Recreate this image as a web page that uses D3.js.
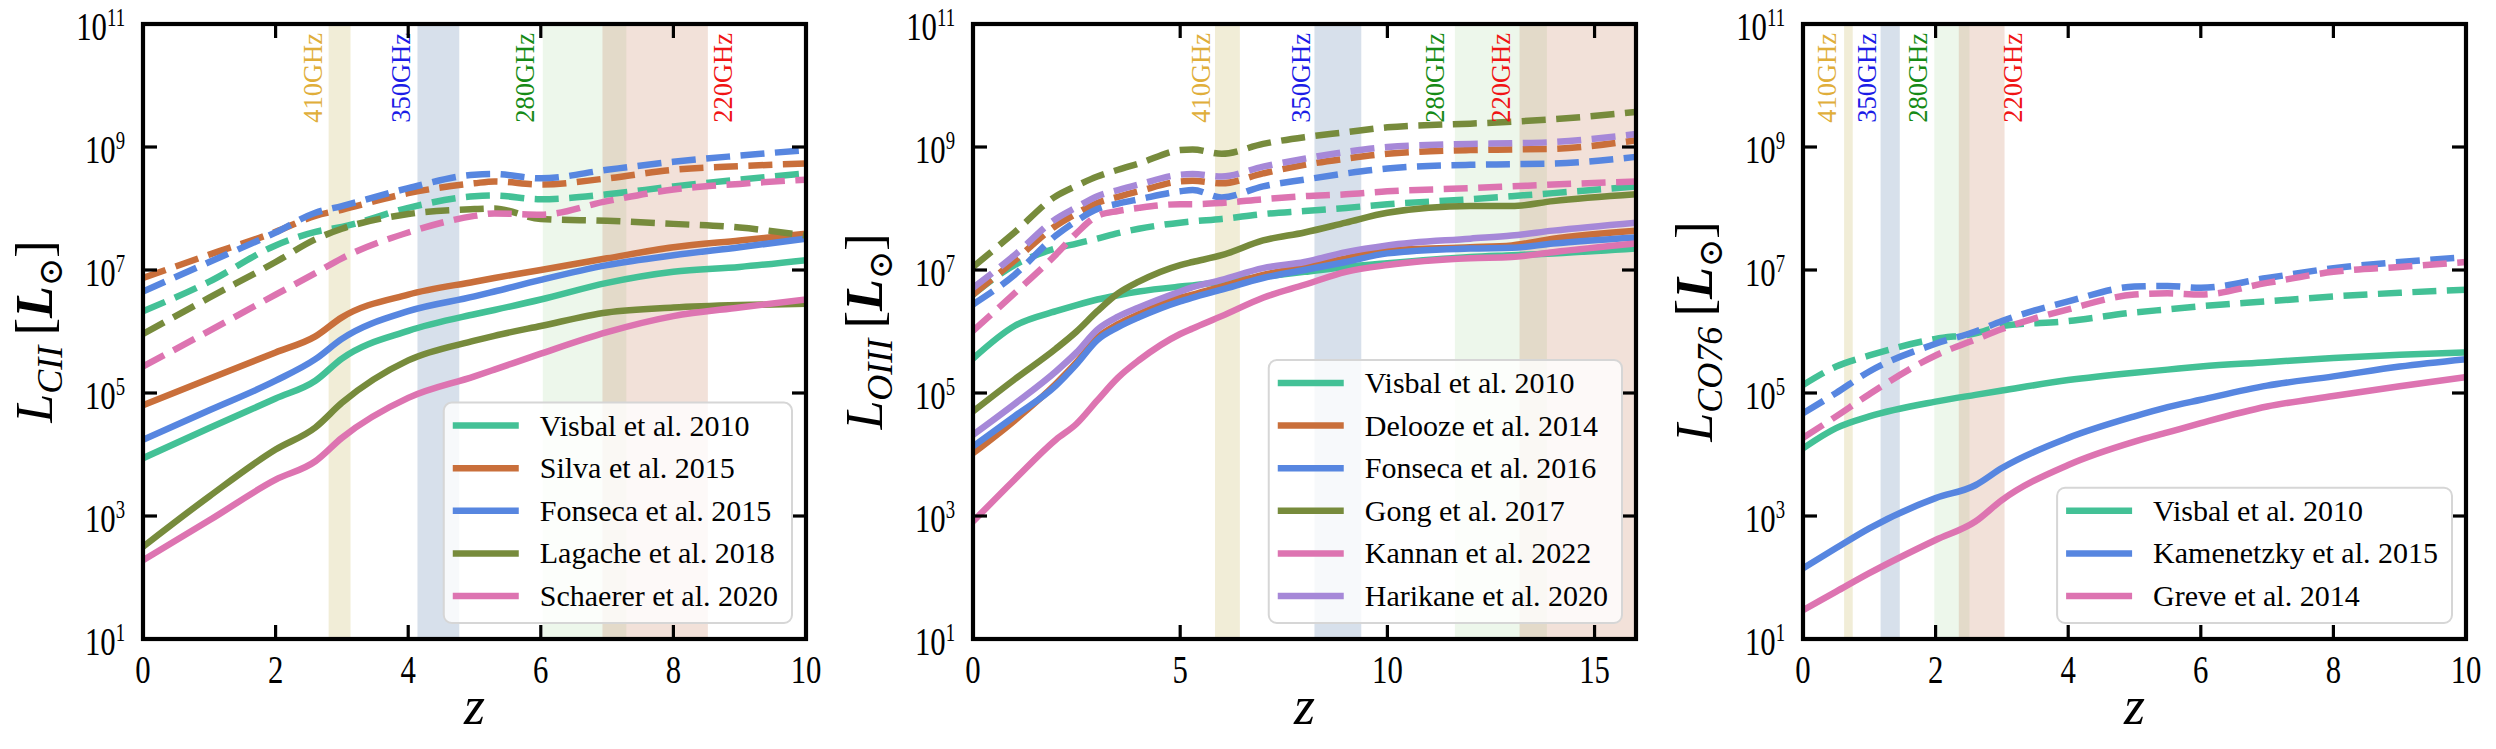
<!DOCTYPE html>
<html>
<head>
<meta charset="utf-8">
<script src="https://cdn.jsdelivr.net/npm/d3@7"></script>
<style>
body { margin: 0; background: #fff; }
svg { display: block; }
svg text { font-family: 'Liberation Serif', 'DejaVu Serif', serif; }
</style>
</head>
<body>
<svg id="fig" width="2496" height="749"></svg>
<script>
// all luminosities below are log10(L / Lsun)

// [CII]
const ciiZ = [0, 1, 2, 2.6, 3, 4, 5, 5.3, 6, 7, 8, 9, 10];
const ciiVisbal = [3.94, 4.43, 4.91, 5.20, 5.56, 6.01, 6.28, 6.35, 6.52, 6.79, 6.97, 7.05, 7.16];
const ciiSilva = [4.80, 5.23, 5.66, 5.92, 6.23, 6.60, 6.81, 6.87, 7.00, 7.19, 7.37, 7.48, 7.59];
const ciiFonseca = [4.24, 4.72, 5.20, 5.55, 5.88, 6.33, 6.57, 6.65, 6.84, 7.08, 7.24, 7.37, 7.51];
const ciiLagache = [2.50, 3.32, 4.08, 4.44, 4.84, 5.53, 5.85, 5.93, 6.09, 6.31, 6.39, 6.43, 6.45];
const ciiSchaerer = [2.28, 2.93, 3.59, 3.89, 4.27, 4.92, 5.27, 5.38, 5.64, 5.99, 6.25, 6.39, 6.52];
const ciiVisbalDash = [6.33, 6.81, 7.40, 7.62, 7.70, 8.01, 8.20, 8.21, 8.15, 8.23, 8.36, 8.47, 8.57];
const ciiSilvaDash = [6.87, 7.25, 7.62, 7.88, 7.98, 8.25, 8.41, 8.44, 8.39, 8.49, 8.63, 8.69, 8.73];
const ciiFonsecaDash = [6.65, 7.13, 7.61, 7.93, 8.04, 8.33, 8.55, 8.56, 8.49, 8.63, 8.76, 8.86, 8.95];
const ciiLagacheDash = [5.96, 6.55, 7.13, 7.50, 7.67, 7.91, 7.99, 8.00, 7.83, 7.80, 7.75, 7.69, 7.56];
const ciiSchaererDash = [5.43, 6.01, 6.60, 6.95, 7.19, 7.61, 7.88, 7.92, 7.90, 8.12, 8.31, 8.40, 8.47];

// [OIII]
const oiiiZ = [0, 1, 2, 2.5, 3, 3.5, 4, 5, 5.3, 6, 7, 8, 9, 10, 12, 13, 14, 16];
const oiiiVisbal = [5.56, 6.09, 6.33, 6.43, 6.52, 6.59, 6.65, 6.73, 6.75, 6.81, 6.89, 6.97, 7.05, 7.11, 7.21, 7.24, 7.27, 7.35];
const oiiiDelooze = [4.02, 4.55, 5.15, 5.50, 5.90, 6.12, 6.28, 6.55, 6.60, 6.73, 6.92, 7.05, 7.19, 7.32, 7.37, 7.40, 7.51, 7.64];
const oiiiFonseca = [4.13, 4.62, 5.12, 5.47, 5.86, 6.07, 6.23, 6.49, 6.55, 6.68, 6.87, 7.00, 7.13, 7.27, 7.35, 7.36, 7.43, 7.53];
const oiiiGong = [4.70, 5.22, 5.72, 6.00, 6.33, 6.62, 6.81, 7.08, 7.13, 7.24, 7.48, 7.61, 7.77, 7.93, 8.04, 8.04, 8.12, 8.23];
const oiiiKannan = [2.91, 3.59, 4.24, 4.50, 4.88, 5.25, 5.53, 5.96, 6.05, 6.25, 6.55, 6.76, 6.97, 7.08, 7.19, 7.21, 7.29, 7.43];
const oiiiHarikane = [4.32, 4.82, 5.35, 5.66, 6.03, 6.24, 6.39, 6.65, 6.72, 6.84, 7.03, 7.13, 7.29, 7.40, 7.51, 7.56, 7.64, 7.77];
const oiiiVisbalDash = [6.60, 7.08, 7.35, 7.43, 7.51, 7.60, 7.67, 7.77, 7.79, 7.83, 7.91, 7.96, 8.01, 8.07, 8.15, 8.20, 8.25, 8.36];
const oiiiDeloozeDash = [6.60, 7.15, 7.72, 7.92, 8.09, 8.19, 8.28, 8.44, 8.45, 8.41, 8.57, 8.71, 8.81, 8.89, 8.95, 8.96, 8.97, 9.11];
const oiiiFonsecaDash = [6.44, 6.92, 7.56, 7.80, 7.99, 8.08, 8.15, 8.28, 8.30, 8.18, 8.36, 8.47, 8.57, 8.65, 8.71, 8.72, 8.73, 8.84];
const oiiiGongDash = [7.05, 7.61, 8.20, 8.37, 8.52, 8.63, 8.73, 8.95, 8.96, 8.89, 9.05, 9.16, 9.24, 9.32, 9.38, 9.41, 9.45, 9.57];
const oiiiKannanDash = [6.01, 6.62, 7.25, 7.60, 7.88, 7.96, 8.01, 8.07, 8.07, 8.09, 8.15, 8.20, 8.23, 8.28, 8.33, 8.36, 8.39, 8.44];
const oiiiHarikaneDash = [6.71, 7.24, 7.83, 8.02, 8.20, 8.30, 8.39, 8.55, 8.56, 8.52, 8.68, 8.81, 8.92, 9.00, 9.05, 9.06, 9.08, 9.21];

// CO(7-6)
const coZ = [0, 0.5, 1, 2, 2.6, 3, 4, 5, 5.5, 6, 7, 8, 9, 10];
const coVisbal = [4.10, 4.43, 4.62, 4.86, 4.97, 5.04, 5.21, 5.33, 5.38, 5.43, 5.50, 5.57, 5.62, 5.66];
const coKamenetzky = [2.15, 2.48, 2.80, 3.29, 3.50, 3.78, 4.27, 4.62, 4.77, 4.89, 5.12, 5.27, 5.43, 5.55];
const coGreve = [1.47, 1.77, 2.07, 2.61, 2.91, 3.26, 3.83, 4.21, 4.36, 4.51, 4.78, 4.95, 5.11, 5.26];
const coVisbalDash = [5.13, 5.43, 5.61, 5.88, 5.97, 6.09, 6.17, 6.31, 6.36, 6.41, 6.49, 6.57, 6.63, 6.68];
const coKamenetzkyDash = [4.67, 5.00, 5.35, 5.80, 6.00, 6.17, 6.49, 6.73, 6.74, 6.71, 6.87, 7.03, 7.13, 7.21];
const coGreveDash = [4.27, 4.62, 4.98, 5.61, 5.87, 6.04, 6.36, 6.60, 6.62, 6.60, 6.79, 6.97, 7.05, 7.13];

// observing bands, as redshift ranges of the line, plus where each label sits
const bandNames = ['410GHz', '350GHz', '280GHz', '220GHz'];
const ciiBands = [[2.80, 3.13], [4.14, 4.77], [6.03, 7.29], [6.93, 8.52]];
const ciiBandLabelZ = [2.56, 3.89, 5.76, 8.75];
const oiiiBands = [[5.84, 6.44], [8.24, 9.37], [11.63, 13.85], [13.19, 17]];
const oiiiBandLabelZ = [5.50, 7.91, 11.15, 12.73];
const coBands = [[0.62, 0.75], [1.17, 1.46], [1.98, 2.51], [2.35, 3.04]];
const coBandLabelZ = [0.36, 0.96, 1.73, 3.17];

const yTickExps = [1, 3, 5, 7, 9, 11];
const ciiXTicks = [0, 2, 4, 6, 8, 10];
const oiiiXTicks = [0, 5, 10, 15];
const coXTicks = [0, 2, 4, 6, 8, 10];

const Color = {
    TEAL: '#43c196',
    ORANGE: '#c96f3b',
    BLUE: '#5786e0',
    OLIVE: '#778b3c',
    PINK: '#dd74b1',
    PURPLE: '#a688d8',
};
const BAND_FILL = [
    { color: '#c8b860', opacity: 0.25 },
    { color: '#6f8fb8', opacity: 0.28 },
    { color: '#90d080', opacity: 0.16 },
    { color: '#c06a40', opacity: 0.20 },
];
const BAND_TEXT = ['#e0ae3a', '#1c1ce6', '#168a16', '#f01414'];

const TOP = 24, BOTTOM = 639, WIDTH = 663;
const LINE_WIDTH = 6.5;

let panels = [
    {
        left: 143, xMax: 10, xTicks: ciiXTicks, z: ciiZ, sub: 'CII',
        bands: ciiBands, bandLabelZ: ciiBandLabelZ,
        series: [
            { label: 'Visbal et al. 2010', color: Color.TEAL, solid: ciiVisbal, dash: ciiVisbalDash },
            { label: 'Silva et al. 2015', color: Color.ORANGE, solid: ciiSilva, dash: ciiSilvaDash },
            { label: 'Fonseca et al. 2015', color: Color.BLUE, solid: ciiFonseca, dash: ciiFonsecaDash },
            { label: 'Lagache et al. 2018', color: Color.OLIVE, solid: ciiLagache, dash: ciiLagacheDash },
            { label: 'Schaerer et al. 2020', color: Color.PINK, solid: ciiSchaerer, dash: ciiSchaererDash },
        ],
    },
    {
        left: 973, xMax: 16, xTicks: oiiiXTicks, z: oiiiZ, sub: 'OIII',
        bands: oiiiBands, bandLabelZ: oiiiBandLabelZ,
        series: [
            { label: 'Visbal et al. 2010', color: Color.TEAL, solid: oiiiVisbal, dash: oiiiVisbalDash },
            { label: 'Delooze et al. 2014', color: Color.ORANGE, solid: oiiiDelooze, dash: oiiiDeloozeDash },
            { label: 'Fonseca et al. 2016', color: Color.BLUE, solid: oiiiFonseca, dash: oiiiFonsecaDash },
            { label: 'Gong et al. 2017', color: Color.OLIVE, solid: oiiiGong, dash: oiiiGongDash },
            { label: 'Kannan et al. 2022', color: Color.PINK, solid: oiiiKannan, dash: oiiiKannanDash },
            { label: 'Harikane et al. 2020', color: Color.PURPLE, solid: oiiiHarikane, dash: oiiiHarikaneDash },
        ],
    },
    {
        left: 1803, xMax: 10, xTicks: coXTicks, z: coZ, sub: 'CO76',
        bands: coBands, bandLabelZ: coBandLabelZ,
        series: [
            { label: 'Visbal et al. 2010', color: Color.TEAL, solid: coVisbal, dash: coVisbalDash },
            { label: 'Kamenetzky et al. 2015', color: Color.BLUE, solid: coKamenetzky, dash: coKamenetzkyDash },
            { label: 'Greve et al. 2014', color: Color.PINK, solid: coGreve, dash: coGreveDash },
        ],
    },
];

let mSvg = d3.select('#fig');

function narrowText(g, x, y, anchor, size) {
    // tick labels in the figure are drawn tall and narrow
    return g.append('text')
        .attr('transform', `translate(${x},${y}) scale(0.75,1)`)
        .attr('text-anchor', anchor)
        .attr('font-size', size)
        .attr('fill', '#000');
}

function drawPanel(panel, index) {
    let x = d3.scaleLinear().domain([0, panel.xMax]).range([panel.left, panel.left + WIDTH]);
    let y = d3.scaleLog().domain([1e1, 1e11]).range([BOTTOM, TOP]);
    let right = panel.left + WIDTH;

    let g = mSvg.append('g');
    let clipId = 'clip' + index;
    g.append('clipPath').attr('id', clipId)
        .append('rect')
        .attr('x', panel.left).attr('y', TOP)
        .attr('width', WIDTH).attr('height', BOTTOM - TOP);

    let plot = g.append('g').attr('clip-path', `url(#${clipId})`);

    // bands
    panel.bands.forEach((band, i) => {
        plot.append('rect')
            .attr('x', x(band[0]))
            .attr('y', TOP)
            .attr('width', x(band[1]) - x(band[0]))
            .attr('height', BOTTOM - TOP)
            .attr('fill', BAND_FILL[i].color)
            .attr('fill-opacity', BAND_FILL[i].opacity);
    });

    let line = d3.line()
        .x(d => x(d[0]))
        .y(d => y(Math.pow(10, d[1])))
        .curve(d3.curveMonotoneX);

    panel.series.forEach(s => {
        plot.append('path')
            .attr('d', line(d3.zip(panel.z, s.solid)))
            .attr('fill', 'none')
            .attr('stroke', s.color)
            .attr('stroke-width', LINE_WIDTH)
            .attr('stroke-linejoin', 'round');
        plot.append('path')
            .attr('d', line(d3.zip(panel.z, s.dash)))
            .attr('fill', 'none')
            .attr('stroke', s.color)
            .attr('stroke-width', LINE_WIDTH)
            .attr('stroke-dasharray', '24,10.5')
            .attr('stroke-linejoin', 'round');
    });

    // band labels, rotated, hanging from the top
    bandNames.forEach((name, i) => {
        g.append('text')
            .attr('transform', `translate(${x(panel.bandLabelZ[i])},33) rotate(-90)`)
            .attr('text-anchor', 'end')
            .attr('dy', '0.34em')
            .attr('font-size', 26.5)
            .attr('fill', BAND_TEXT[i])
            .text(name);
    });

    // ticks
    let ticks = g.append('g').attr('stroke', '#000').attr('stroke-width', 3.2);
    yTickExps.forEach(e => {
        let ty = y(Math.pow(10, e));
        ticks.append('line').attr('x1', panel.left).attr('x2', panel.left + 14).attr('y1', ty).attr('y2', ty);
        ticks.append('line').attr('x1', right).attr('x2', right - 14).attr('y1', ty).attr('y2', ty);

        let label = narrowText(g, panel.left - 18, ty + 16, 'end', 41);
        label.append('tspan').text('10');
        label.append('tspan').attr('font-size', 25).attr('dy', -14).text(e);
    });
    panel.xTicks.forEach(v => {
        let tx = x(v);
        ticks.append('line').attr('x1', tx).attr('x2', tx).attr('y1', BOTTOM).attr('y2', BOTTOM - 14);
        ticks.append('line').attr('x1', tx).attr('x2', tx).attr('y1', TOP).attr('y2', TOP + 14);
        narrowText(g, tx, 683, 'middle', 41).text(v);
    });

    g.append('rect')
        .attr('x', panel.left).attr('y', TOP)
        .attr('width', WIDTH).attr('height', BOTTOM - TOP)
        .attr('fill', 'none')
        .attr('stroke', '#000')
        .attr('stroke-width', 4.2);

    // axis labels
    g.append('text')
        .attr('x', panel.left + WIDTH / 2)
        .attr('y', 724)
        .attr('text-anchor', 'middle')
        .attr('font-style', 'italic')
        .attr('font-size', 54)
        .text('z');

    let yLabel = g.append('text')
        .attr('transform', `translate(${panel.left - 91},${(TOP + BOTTOM) / 2}) rotate(-90)`)
        .attr('text-anchor', 'middle')
        .attr('font-size', 52);
    yLabel.append('tspan').attr('font-style', 'italic').text('L');
    yLabel.append('tspan').attr('font-style', 'italic').attr('font-size', 36).attr('dy', 10).text(panel.sub);
    yLabel.append('tspan').attr('dy', -10).text('\u2009[');
    yLabel.append('tspan').attr('font-style', 'italic').attr('font-weight', 'bold').text('L');
    yLabel.append('tspan').attr('font-size', 34).attr('dy', 10).text('\u2299');
    yLabel.append('tspan').attr('dy', -10).text(']');

    drawLegend(g, panel, right);
}

function drawLegend(g, panel, right) {
    const ROW = 42.6;
    let n = panel.series.length;
    let bottom = BOTTOM - 16;
    let top = bottom - ((n - 1) * ROW + 50);

    let box = g.append('rect');
    let handles = [];
    let texts = [];
    panel.series.forEach((s, i) => {
        let ry = top + 23 + i * ROW;
        let row = g.append('g').attr('transform', `translate(0,${ry})`);
        handles.push(row.append('line')
            .attr('y1', 0).attr('y2', 0)
            .attr('stroke', s.color)
            .attr('stroke-width', LINE_WIDTH));
        texts.push(row.append('text')
            .attr('dy', '0.33em')
            .attr('font-size', 30)
            .text(s.label));
    });

    let maxWidth = d3.max(texts, t => t.node().getComputedTextLength());
    let width = 96 + maxWidth + 14;
    let left = right - 14 - width;

    box.attr('x', left).attr('y', top)
        .attr('width', width).attr('height', bottom - top)
        .attr('rx', 8)
        .attr('fill', '#fff')
        .attr('fill-opacity', 0.8)
        .attr('stroke', '#d6d6d6')
        .attr('stroke-width', 2);
    handles.forEach(h => h.attr('x1', left + 9).attr('x2', left + 75));
    texts.forEach(t => t.attr('x', left + 96));
}

panels.forEach(drawPanel);
</script>
</body>
</html>
